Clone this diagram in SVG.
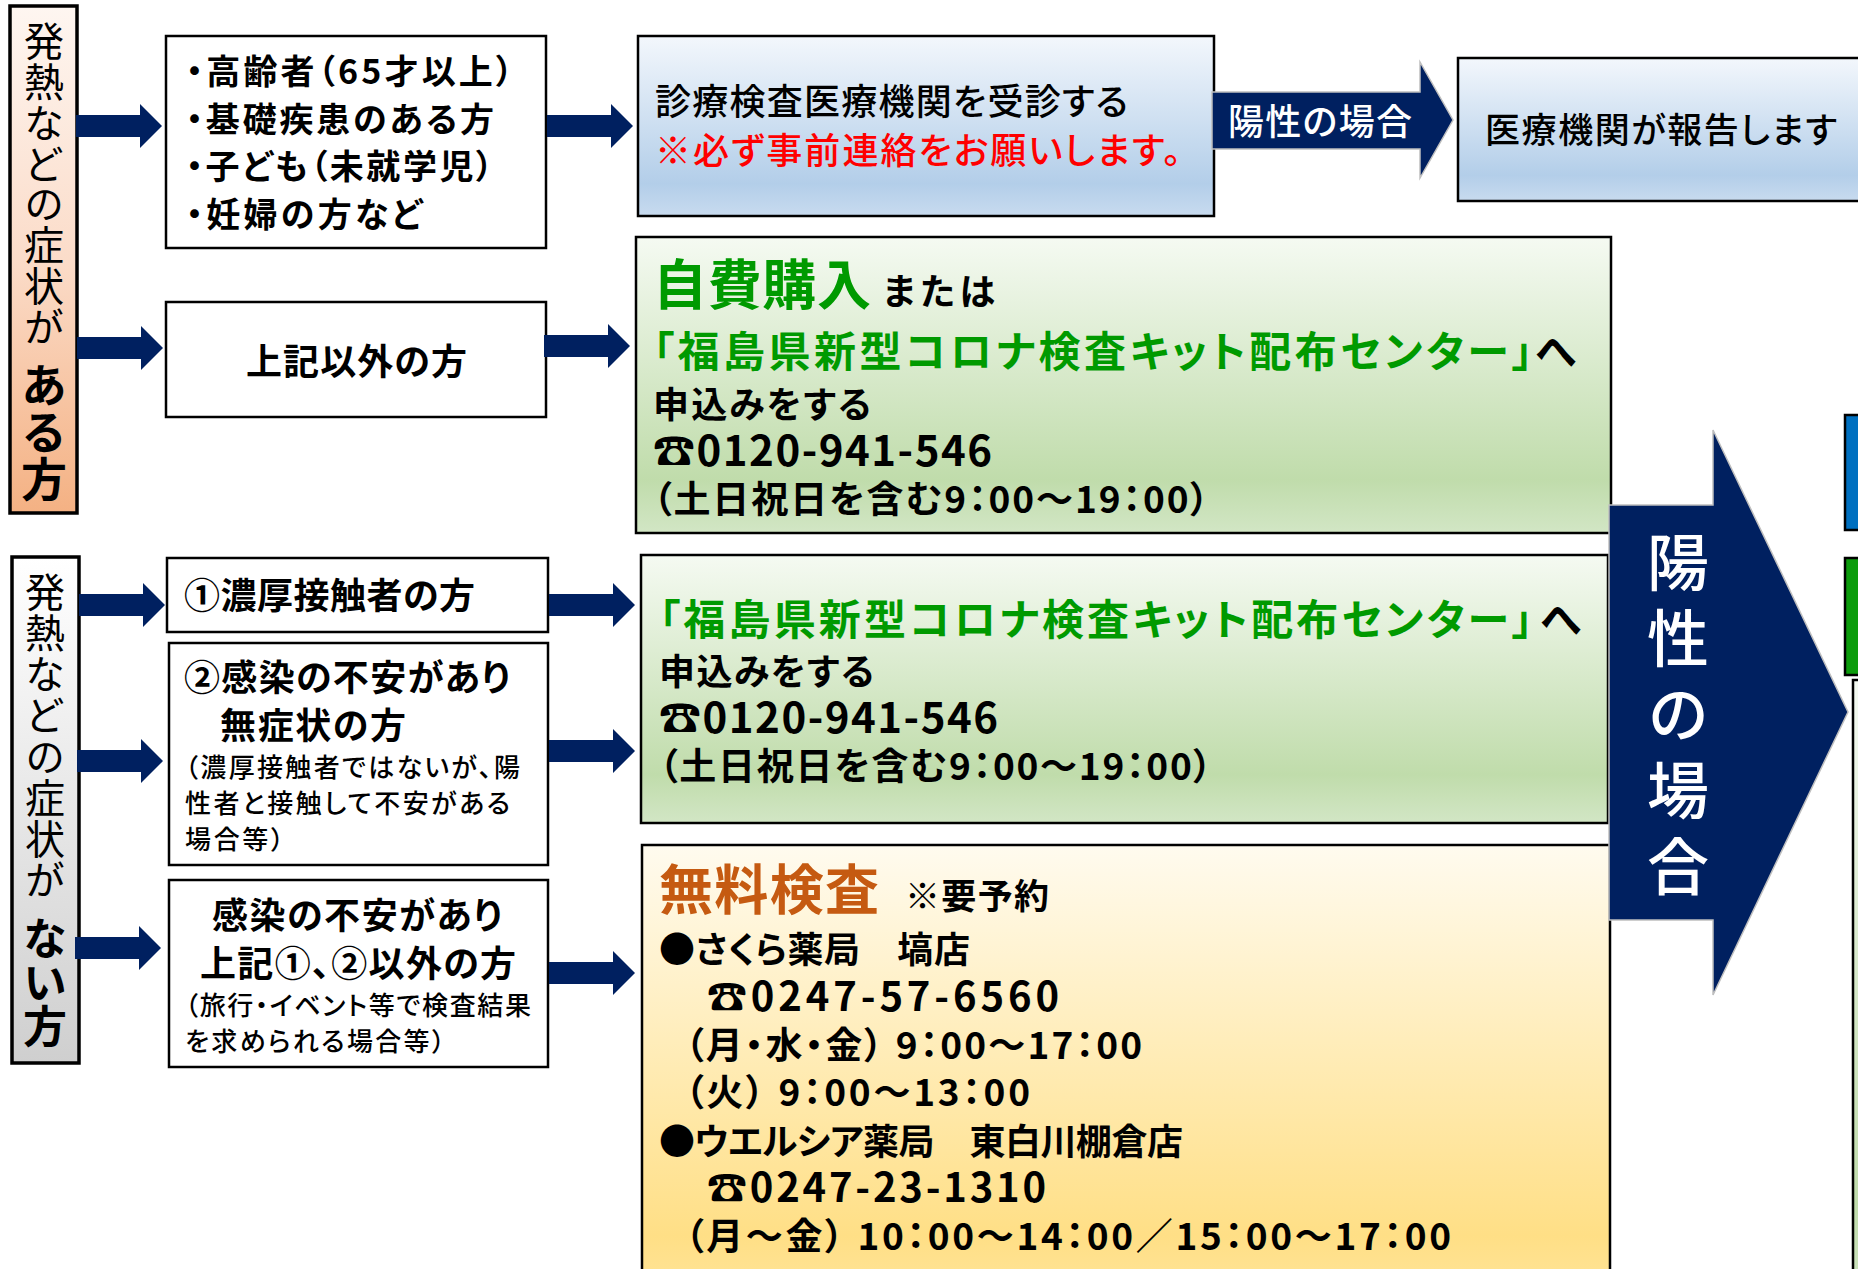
<svg xmlns="http://www.w3.org/2000/svg" width="1858" height="1269" viewBox="0 0 1858 1269">
<style>
text { font-family: 'Noto Sans CJK JP', 'Noto Sans', sans-serif; font-feature-settings: "palt"; fill: #000; }
.b { font-weight: 700; }
.m { font-weight: 500; }
.r { font-weight: 400; }
.v { writing-mode: vertical-rl; font-feature-settings: normal; }
.box { fill: #fff; stroke: #000; stroke-width: 2.5; }
.side { stroke: #000; stroke-width: 3.5; }
.grn { fill: #009a00; }
.wht { fill: #fff; }
.nav { fill: #002060; }
.navo { fill: #002060; stroke: #bfbfbf; stroke-width: 1.5; }
</style>
<defs>
<linearGradient id="gPeach" x1="0" y1="0" x2="0" y2="1"><stop offset="0" stop-color="#fef6f1"/><stop offset="0.5" stop-color="#fbdcc9"/><stop offset="1" stop-color="#f4b183"/></linearGradient>
<linearGradient id="gGray" x1="0" y1="0" x2="0" y2="1"><stop offset="0" stop-color="#ffffff"/><stop offset="1" stop-color="#cfcfcf"/></linearGradient>
<linearGradient id="gBlue" x1="0" y1="0" x2="0" y2="1"><stop offset="0" stop-color="#f3f7fc"/><stop offset="0.82" stop-color="#b3cee9"/><stop offset="1" stop-color="#c8dbef"/></linearGradient>
<linearGradient id="gGreen" x1="0" y1="0" x2="0" y2="1"><stop offset="0" stop-color="#f5faf2"/><stop offset="0.82" stop-color="#c0dcab"/><stop offset="1" stop-color="#d2e6c5"/></linearGradient>
<linearGradient id="gYellow" x1="0" y1="0" x2="0" y2="1"><stop offset="0" stop-color="#fffbef"/><stop offset="0.85" stop-color="#ffdf86"/><stop offset="1" stop-color="#ffe59c"/></linearGradient>
<path id="arr" d="M-86,-11 H-22 V-22 L0,0 L-22,22 V11 H-86 Z"/>
</defs>
<rect width="1858" height="1269" fill="#fff"/>

<g id="n-symptom-yes">
<rect class="side" x="10" y="6" width="67" height="507" fill="url(#gPeach)"/>
<text class="r v" font-size="40" x="44" y="21" letter-spacing="0.8">発熱などの症状が</text>
<text class="b v" font-size="46" x="44" y="362" letter-spacing="1">ある方</text>
</g>

<g id="n-symptom-no">
<rect class="side" x="12" y="557" width="67" height="506" fill="url(#gGray)"/>
<text class="r v" font-size="40" x="45" y="572" letter-spacing="1.1">発熱などの症状が</text>
<text class="b v" font-size="44" x="45" y="916">ない方</text>
</g>

<g id="n-high-risk">
<rect class="box" x="166" y="36" width="380" height="212"/>
<text class="b" font-size="34" x="186" y="84" textLength="327">・高齢者（65才以上）</text>
<text class="b" font-size="34" x="186" y="131.5" textLength="308">・基礎疾患のある方</text>
<text class="b" font-size="34" x="186" y="179" textLength="307">・子ども（未就学児）</text>
<text class="b" font-size="34" x="186" y="226.5" textLength="236">・妊婦の方など</text>
</g>

<g id="n-other">
<rect class="box" x="166" y="302" width="380" height="115"/>
<text class="b" font-size="36" x="246" y="375" textLength="221">上記以外の方</text>
</g>

<g id="n-diag">
<rect x="638" y="36" width="576" height="180" fill="url(#gBlue)" stroke="#000" stroke-width="2.5"/>
<text class="m" font-size="36" x="655" y="115" textLength="473">診療検査医療機関を受診する</text>
<text class="m" font-size="36" x="655" y="164" textLength="526" style="fill:#ff0000">※必ず事前連絡をお願いします。</text>
</g>

<g id="n-report">
<rect x="1458" y="58" width="430" height="143" fill="url(#gBlue)" stroke="#000" stroke-width="2.5"/>
<text class="m" font-size="35" x="1485" y="143" textLength="352">医療機関が報告します</text>
</g>

<g id="n-kit-buy">
<rect x="636" y="237" width="975" height="296" fill="url(#gGreen)" stroke="#000" stroke-width="2.5"/>
<text class="b grn" font-size="54" x="653" y="305" textLength="218">自費購入</text>
<text class="b" font-size="36" x="883" y="305" textLength="112">または</text>
<text class="b grn" font-size="42" x="653" y="367" textLength="880">「福島県新型コロナ検査キット配布センター」</text>
<text class="b" font-size="42" x="1535" y="367">へ</text>
<text class="b" font-size="36" x="653" y="418" textLength="218">申込みをする</text>
<text class="b" font-size="42" x="653" y="466" textLength="339">☎0120-941-546</text>
<text class="b" font-size="37" x="653" y="513" textLength="556">（土日祝日を含む9：00～19：00）</text>
</g>

<g id="n-close-contact">
<rect class="box" x="167" y="558" width="381" height="74"/>
<text class="b" font-size="36" x="184" y="609" textLength="291">①濃厚接触者の方</text>
</g>

<g id="n-anxious-asym">
<rect class="box" x="169" y="643" width="379" height="222"/>
<text class="b" font-size="36" x="184" y="691" textLength="326">②感染の不安があり</text>
<text class="b" font-size="36" x="220" y="739" textLength="186">無症状の方</text>
<text class="m" font-size="26" x="185" y="777" textLength="335">（濃厚接触者ではないが、陽</text>
<text class="m" font-size="26" x="185" y="813" textLength="325">性者と接触して不安がある</text>
<text class="m" font-size="26" x="185" y="849" textLength="99">場合等）</text>
</g>

<g id="n-anxious-other">
<rect class="box" x="169" y="880" width="379" height="187"/>
<text class="b" font-size="36" x="212" y="929" textLength="290">感染の不安があり</text>
<text class="b" font-size="36" x="200" y="977" textLength="316">上記①、②以外の方</text>
<text class="m" font-size="26" x="185" y="1015" textLength="346">（旅行・イベント等で検査結果</text>
<text class="m" font-size="26" x="185" y="1051" textLength="260">を求められる場合等）</text>
</g>

<g id="n-kit-center">
<rect x="641" y="555" width="967" height="268" fill="url(#gGreen)" stroke="#000" stroke-width="2.5"/>
<text class="b grn" font-size="42" x="659" y="635" textLength="874">「福島県新型コロナ検査キット配布センター」</text>
<text class="b" font-size="42" x="1540" y="635">へ</text>
<text class="b" font-size="36" x="659" y="685" textLength="215">申込みをする</text>
<text class="b" font-size="42" x="659" y="733" textLength="339">☎0120-941-546</text>
<text class="b" font-size="37" x="659" y="780" textLength="553">（土日祝日を含む9：00～19：00）</text>
</g>

<g id="n-free-test">
<rect x="642" y="845" width="968" height="460" fill="url(#gYellow)" stroke="#000" stroke-width="2.5"/>
<text class="b" font-size="54" x="659" y="910" textLength="220" style="fill:#c55a11">無料検査</text>
<text class="b" font-size="35" x="905" y="909" textLength="144">※要予約</text>
<text class="b" font-size="36" x="659" y="963" textLength="311">●さくら薬局　塙店</text>
<text class="b" font-size="40" x="707" y="1011" textLength="352">☎0247-57-6560</text>
<text class="b" font-size="37" x="685" y="1059" textLength="457">（月・水・金） 9：00～17：00</text>
<text class="b" font-size="37" x="685" y="1106" textLength="345">（火） 9：00～13：00</text>
<text class="b" font-size="36" x="659" y="1155" textLength="524">●ウエルシア薬局　東白川棚倉店</text>
<text class="b" font-size="40" x="707" y="1202" textLength="339">☎0247-23-1310</text>
<text class="b" font-size="37" x="685" y="1250" textLength="766">（月～金） 10：00～14：00／15：00～17：00</text>
</g>

<g id="n-right-blue">
<rect x="1845" y="415" width="40" height="115" fill="#0070c0" stroke="#000" stroke-width="2.5"/>
</g>
<g id="n-right-green">
<rect x="1845" y="558" width="40" height="117" fill="#0c9c0c" stroke="#000" stroke-width="2.5"/>
</g>
<g id="n-right-box">
<rect x="1853" y="680" width="40" height="640" fill="url(#gGreen)" stroke="#000" stroke-width="2.5"/>
</g>

<g id="connectors">
<use href="#arr" class="nav" x="162" y="126"/>
<use href="#arr" class="nav" x="163" y="348"/>
<use href="#arr" class="nav" x="633" y="126"/>
<use href="#arr" class="nav" x="630" y="346"/>
<use href="#arr" class="nav" x="165" y="605"/>
<use href="#arr" class="nav" x="163" y="761"/>
<use href="#arr" class="nav" x="161" y="948"/>
<use href="#arr" class="nav" x="635" y="605"/>
<use href="#arr" class="nav" x="635" y="751"/>
<use href="#arr" class="nav" x="635" y="973"/>
<g id="c-positive-report">
<path class="navo" d="M1212,92 H1420 V62 L1453,120 L1420,178 V149 H1212 Z"/>
<text class="m wht" font-size="36" x="1228" y="135" textLength="184">陽性の場合</text>
</g>
<g id="c-positive-big">
<path class="navo" d="M1609,505 H1713 V430 L1848,712 L1713,995 V920 H1609 Z"/>
<text class="m wht v" font-size="62" x="1678" y="531" letter-spacing="14">陽性の場合</text>
</g>
</g>
</svg>
